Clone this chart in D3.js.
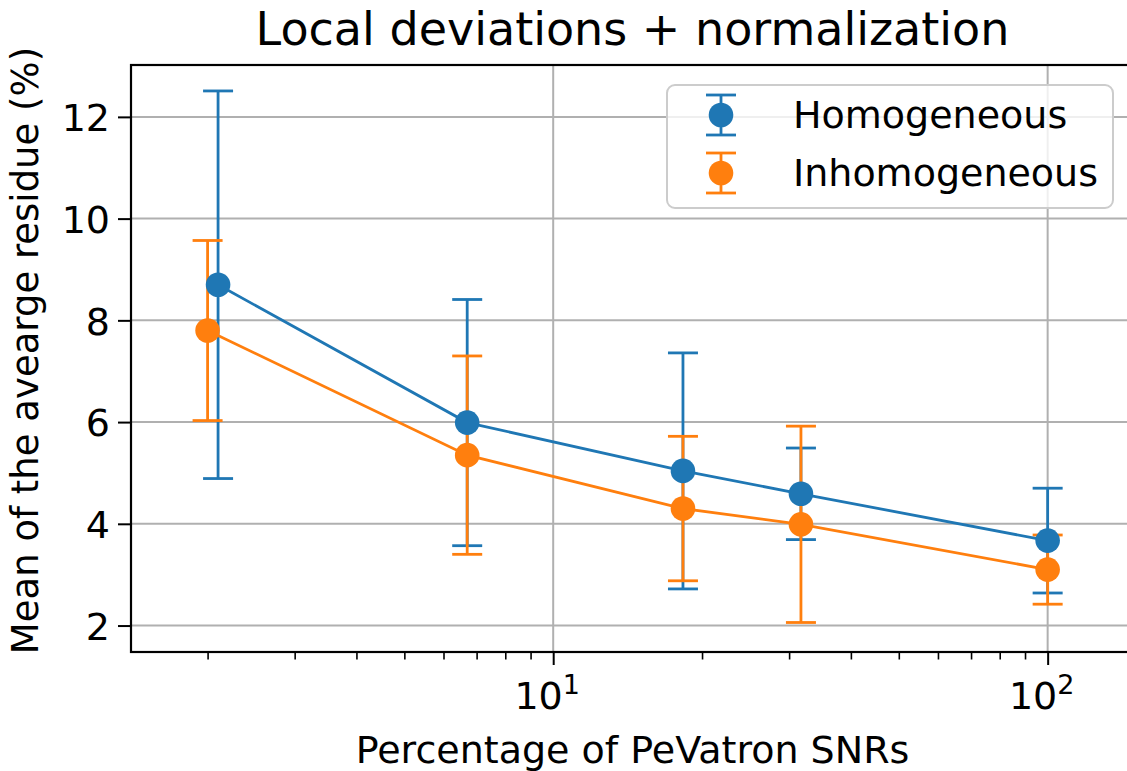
<!DOCTYPE html>
<html>
<head>
<meta charset="utf-8">
<script src="https://cdnjs.cloudflare.com/ajax/libs/d3/7.8.5/d3.min.js"></script>
<style>
    body { margin: 0; background: #fff; }
    svg { display: block; }
    text { font-family: "DejaVu Sans", sans-serif; fill: #000; }
</style>
</head>
<body>
<svg id="chart" width="1127" height="771"></svg>
<script>
// values
var xHom = [2.1, 6.7, 18.3, 31.7, 100];
var xInh = [2.0, 6.7, 18.3, 31.7, 100];
var homMean = [8.70, 5.99, 5.04, 4.59, 3.67];
var homErr = [3.81, 2.42, 2.32, 0.90, 1.03];
var inhMean = [7.80, 5.35, 4.30, 3.99, 3.10];
var inhErr = [1.77, 1.95, 1.42, 1.93, 0.68];
var yTicks = [2, 4, 6, 8, 10, 12];
var xMajor = [10, 100];
var seriesNames = ["Homogeneous", "Inhomogeneous"];
var colors = ["#1f77b4", "#ff7f0e"];

var svg = d3.select("#chart");
// plot box (right side runs past the picture)
var pL = 131, pT = 65, pR = 1134, pB = 652;

var x = d3.scaleLog().domain([1.4, 149.5]).range([pL, pR]);
var y = d3.scaleLinear().domain([1.48, 13.02]).range([pB, pT]);

var series = [
    {name: seriesNames[0], color: colors[0], pts: xHom.map(function(v, i) { return {x: v, m: homMean[i], e: homErr[i]}; })},
    {name: seriesNames[1], color: colors[1], pts: xInh.map(function(v, i) { return {x: v, m: inhMean[i], e: inhErr[i]}; })}
];

// grid
var grid = svg.append("g").attr("class", "grid");
grid.selectAll("line.gy").data(yTicks).enter().append("line")
    .attr("x1", pL).attr("x2", pR)
    .attr("y1", function(d) { return y(d); }).attr("y2", function(d) { return y(d); })
    .style("stroke", "#b0b0b0").style("stroke-width", 2);
grid.selectAll("line.gx").data(xMajor).enter().append("line")
    .attr("y1", pT).attr("y2", pB)
    .attr("x1", function(d) { return x(d); }).attr("x2", function(d) { return x(d); })
    .style("stroke", "#b0b0b0").style("stroke-width", 2);

// error bars first (under every line)
var cap = 15;
series.forEach(function(s) {
    var g = svg.append("g").style("stroke", s.color).style("stroke-width", 2.8);
    g.selectAll("line.bar").data(s.pts).enter().append("line")
        .attr("x1", function(d) { return x(d.x); }).attr("x2", function(d) { return x(d.x); })
        .attr("y1", function(d) { return y(d.m - d.e); }).attr("y2", function(d) { return y(d.m + d.e); });
    g.selectAll("line.capTop").data(s.pts).enter().append("line")
        .attr("x1", function(d) { return x(d.x) - cap; }).attr("x2", function(d) { return x(d.x) + cap; })
        .attr("y1", function(d) { return y(d.m + d.e); }).attr("y2", function(d) { return y(d.m + d.e); });
    g.selectAll("line.capBot").data(s.pts).enter().append("line")
        .attr("x1", function(d) { return x(d.x) - cap; }).attr("x2", function(d) { return x(d.x) + cap; })
        .attr("y1", function(d) { return y(d.m - d.e); }).attr("y2", function(d) { return y(d.m - d.e); });
});

// lines + markers
var line = d3.line().x(function(d) { return x(d.x); }).y(function(d) { return y(d.m); });
series.forEach(function(s) {
    svg.append("path").datum(s.pts)
        .attr("d", line)
        .style("fill", "none").style("stroke", s.color).style("stroke-width", 2.8);
    svg.selectAll(null).data(s.pts).enter().append("circle")
        .attr("cx", function(d) { return x(d.x); })
        .attr("cy", function(d) { return y(d.m); })
        .attr("r", 12.3)
        .style("fill", s.color);
});

// axes
var yAxis = svg.append("g").attr("transform", "translate(" + pL + ",0)")
    .call(d3.axisLeft(y).tickValues(yTicks).tickSize(13).tickPadding(8).tickFormat(d3.format("d")));
var xAxis = svg.append("g").attr("transform", "translate(0," + pB + ")")
    .call(d3.axisBottom(x).tickValues(xMajor).tickSize(13).tickFormat(""));

var minor = [];
for (var k = 2; k <= 9; k++) { minor.push(k); minor.push(k * 10); }
minor = minor.filter(function(v) { return v > 1.4 && v < 149.5; });
var xMinor = svg.append("g").attr("transform", "translate(0," + pB + ")")
    .call(d3.axisBottom(x).tickValues(minor).tickSize(7.5).tickFormat(""));
xMinor.selectAll(".tick line").style("stroke", "#000").style("stroke-width", 1.6);

[yAxis, xAxis].forEach(function(a) {
    a.selectAll(".tick line").style("stroke", "#000").style("stroke-width", 2);
    a.selectAll("text").style("font-size", "38px").style("font-family", "DejaVu Sans");
});
svg.selectAll(".domain").remove();
yAxis.selectAll("text").attr("dy", "0.36em").style("fill", "#000");

// 10^n labels
var xl = svg.append("g");
xMajor.forEach(function(v) {
    var t = xl.append("text")
        .attr("x", x(v) - 6).attr("y", 709)
        .attr("text-anchor", "middle").style("font-size", "38px");
    t.append("tspan").text("10");
    t.append("tspan").attr("dy", -15).style("font-size", "27px").text(Math.round(Math.log10(v)));
});

// frame
svg.append("rect")
    .attr("x", pL).attr("y", pT).attr("width", pR - pL).attr("height", pB - pT)
    .style("fill", "none").style("stroke", "#000").style("stroke-width", 2.2);

// titles
svg.append("text").attr("x", (pL + pR) / 2).attr("y", 45)
    .attr("text-anchor", "middle").style("font-size", "46px")
    .text("Local deviations + normalization");
svg.append("text").attr("x", (pL + pR) / 2).attr("y", 763)
    .attr("text-anchor", "middle").style("font-size", "38px")
    .text("Percentage of PeVatron SNRs");
svg.append("text")
    .attr("transform", "translate(38," + ((pT + pB) / 2 - 8) + ") rotate(-90)")
    .attr("text-anchor", "middle").style("font-size", "37px")
    .text("Mean of the avearge residue (%)");

// legend
var lg = svg.append("g");
lg.append("rect").attr("x", 667).attr("y", 85).attr("width", 446).attr("height", 123)
    .attr("rx", 8).style("fill", "#fff").style("fill-opacity", 0.8)
    .style("stroke", "#cccccc").style("stroke-width", 2);
series.forEach(function(s, i) {
    var cy = 115 + i * 58, cx = 721;
    var g = lg.append("g").style("stroke", s.color).style("stroke-width", 2.8);
    g.append("line").attr("x1", cx).attr("x2", cx).attr("y1", cy - 20).attr("y2", cy + 20);
    g.append("line").attr("x1", cx - 15).attr("x2", cx + 15).attr("y1", cy - 20).attr("y2", cy - 20);
    g.append("line").attr("x1", cx - 15).attr("x2", cx + 15).attr("y1", cy + 20).attr("y2", cy + 20);
    lg.append("circle").attr("cx", cx).attr("cy", cy).attr("r", 12.3).style("fill", s.color);
    lg.append("text").attr("x", 793).attr("y", cy + 13).style("font-size", "38px").text(s.name);
});
</script>
</body>
</html>
